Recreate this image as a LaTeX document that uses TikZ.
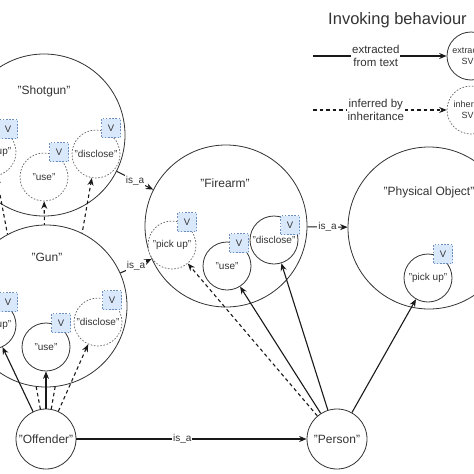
\documentclass[tikz,border=0pt]{standalone}
\usepackage{fontspec}
\setmainfont{Liberation Sans}
\usetikzlibrary{arrows.meta}
\definecolor{vfill}{HTML}{DAE8FC}
\definecolor{vdraw}{HTML}{6C8EBF}
\definecolor{ink}{HTML}{333333}
\begin{document}
\begin{tikzpicture}[x=1pt,y=-1pt,
  big/.style={circle, draw=ink, line width=0.8pt, fill=white, inner sep=0pt, minimum size=162pt},
  svb/.style={circle, draw=ink, line width=0.8pt, fill=white, inner sep=0pt, minimum size=48pt, font=\fontsize{10}{12}\selectfont, text=ink},
  isvb/.style={svb, draw=black!60, line width=0.7pt, dash pattern=on 1.6pt off 1.6pt},
  vbox/.style={rectangle, draw=vdraw, fill=vfill, line width=0.6pt, dash pattern=on 1.6pt off 1.6pt, minimum size=19pt, inner sep=0pt, font=\fontsize{9.5}{10}\selectfont, text=ink},
  ent/.style={circle, draw=ink, line width=0.8pt, fill=white, minimum size=60pt, inner sep=0pt, font=\fontsize{12}{14}\selectfont, text=ink},
  lbl/.style={font=\fontsize{12}{14}\selectfont, text=ink},
  ext/.style={-{Stealth[length=7.5pt,width=6pt]}, line width=1.1pt, draw=black!90},
  inh/.style={ext, dash pattern=on 3.5pt off 3pt},
  isalbl/.style={fill=white, inner sep=1pt, font=\fontsize{10}{12}\selectfont, text=ink},
  leglbl/.style={fill=white, inner sep=1pt, align=center, font=\fontsize{11.5}{13}\selectfont, text=ink},
  legsvb/.style={align=center, font=\fontsize{9}{10.5}\selectfont}
]
\useasboundingbox (0,0) rectangle (474,474);

% ---------- Shotgun ----------
\node[big] (shotgun) at (44,135) {};
\node[lbl] (shotgunlbl) at (44,91) {"Shotgun"};
\node[isvb] (sgpick) at (-8,152) {"pick up"};
\node[vbox] (sgpickv) at (8,129) {V};
\node[isvb] (sguse) at (44,177) {"use"};
\node[vbox] (sgusev) at (59,152) {V};
\node[isvb] (sgdisc) at (96,154) {"disclose"};
\node[vbox] (sgdiscv) at (111,128) {V};

% ---------- Offender ----------
\node[ent] (offender) at (46,439) {"Offender"};

% inherited edges hidden behind Gun
\draw[inh] (offender) -- (sgpick);
\draw[inh] (offender) -- (sguse);
\draw[inh] (offender) -- (sgdisc);

% ---------- Gun ----------
\node[big] (gun) at (46,306) {};
\node[lbl] (gunlbl) at (47,257) {"Gun"};
\node[svb] (gunpick) at (-8,325) {"pick up"};
\node[vbox] (gunpickv) at (8,302) {V};
\node[svb] (gunuse) at (46,347) {"use"};
\node[vbox] (gunusev) at (61,323) {V};
\node[isvb] (gundisc) at (98,322) {"disclose"};
\node[vbox] (gundiscv) at (112,300) {V};

% ---------- Firearm ----------
\node[big] (firearm) at (226,226) {};
\node[lbl] (firearmlbl) at (225,183) {"Firearm"};
\node[isvb] (fapick) at (172,245) {"pick up"};
\node[vbox] (fapickv) at (187,222) {V};
\node[svb] (fause) at (227,266) {"use"};
\node[vbox] (fausev) at (239,243) {V};
\node[svb] (fadisc) at (274,240) {"disclose"};
\node[vbox] (fadiscv) at (290,225) {V};

% ---------- Physical Object ----------
\node[big] (phys) at (429,228) {};
\node[lbl] (physlbl) at (429,192) {"Physical Object"};
\node[svb] (phpick) at (428,278) {"pick up"};
\node[vbox] (phpickv) at (443,254) {V};

% ---------- Person ----------
\node[ent] (person) at (337,439) {"Person"};

% ---------- is_a edges ----------
\draw[ext] (shotgun) -- node[isalbl] {is\_a} (firearm);
\draw[ext] (gun) -- node[isalbl] {is\_a} (firearm);
\draw[ext] (firearm) -- node[isalbl] {is\_a} (phys);
\draw[ext] (offender) -- node[isalbl, pos=0.46] {is\_a} (person);

% ---------- invoking edges ----------
\draw[ext] (offender) -- (gunpick);
\draw[ext] (offender) -- (gunuse);
\draw[inh] (offender) -- (gundisc);
\draw[inh] (person) -- (fapick);
\draw[ext] (person) -- (fause);
\draw[ext] (person) -- (fadisc);
\draw[ext] (person) -- (phpick);

% ---------- legend ----------
\node[font=\fontsize{16.5}{20}\selectfont, anchor=base, text=ink] (title) at (397.5,24) {Invoking behaviour};
\coordinate (leg1) at (313,56);
\node[svb, legsvb] (legc1) at (471,56) {extracted\\SVO};
\draw[ext] (leg1) -- node[leglbl, pos=0.47] {extracted\\from text} (legc1);
\coordinate (leg2) at (313,110);
\node[isvb, legsvb] (legc2) at (471,110) {inherited\\SVO};
\draw[inh] (leg2) -- node[leglbl, pos=0.47] {inferred by\\inheritance} (legc2);
\end{tikzpicture}
\end{document}
